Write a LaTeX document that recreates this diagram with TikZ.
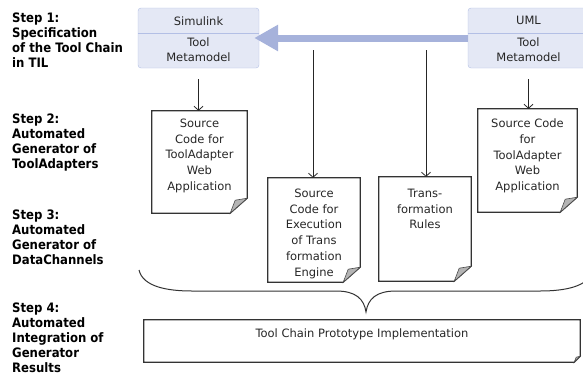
\documentclass[tikz,border=0pt]{standalone}
\usepackage{fontspec}
\setmainfont{DejaVu Sans}
\newfontfamily\stepfont{DejaVu Sans Condensed}
\usetikzlibrary{arrows.meta,positioning}

\definecolor{boxfill}{HTML}{E4E8F5}
\definecolor{boxline}{HTML}{B3BFE5}
\definecolor{bigarrow}{HTML}{A6B2DB}
\definecolor{foldgray}{HTML}{B4B4B4}

\begin{document}
\begin{tikzpicture}[x=1pt,y=-1pt,
  steplabel/.style={anchor=north west,inner sep=0pt,align=left,font=\stepfont\bfseries\fontsize{13}{15}\selectfont},
  toolbox/.style={draw=boxline,fill=boxfill,rounded corners=3pt,minimum width=121pt,minimum height=60pt,inner sep=0pt},
  tooltext/.style={inner sep=0pt,align=center,font=\fontsize{11.5}{15}\selectfont,text=black!85},
  page/.style={inner sep=0pt,draw=none},
  pagetext/.style={inner sep=0pt,align=center,font=\fontsize{11.5}{15.7}\selectfont,text=black!85},
  pageline/.style={draw=black!80,line width=1.2pt},
  fold/.style={fill=foldgray,draw=black!70,line width=0.6pt},
  arr/.style={-{Straight Barb[length=4pt,width=9pt]},black!85,line width=0.8pt}]
\useasboundingbox (0,0) rectangle (583,375);

\node[steplabel] (s1) at (12,13) {Step 1:\\Specification\\of the Tool Chain\\in TIL};
\node[steplabel] (s2) at (12,114) {Step 2:\\Automated\\Generator of\\ToolAdapters};
\node[steplabel] (s3) at (12,210) {Step 3:\\Automated\\Generator of\\DataChannels};
\node[steplabel] (s4) at (12,303) {Step 4:\\Automated\\Integration of\\Generator\\Results};

\node[toolbox] (sim) at (198.5,38) {};
\node[toolbox] (uml) at (528.5,38) {};
\foreach \t in {sim,uml} {
\draw[boxline] ([yshift=-25pt]\t.north west) -- ([yshift=-25pt]\t.north east);
}
\node[tooltext] (simname) at ([yshift=-13pt]sim.north) {Simulink};
\node[tooltext] (simmeta) at ([yshift=-42pt]sim.north) {Tool\\Metamodel};
\node[tooltext] (umlname) at ([yshift=-13pt]uml.north) {UML};
\node[tooltext] (umlmeta) at ([yshift=-42pt]uml.north) {Tool\\Metamodel};

\draw[-{Triangle[length=24pt,width=25pt]},bigarrow,line width=7pt] (uml.west) -- ([xshift=-5pt]sim.east);

\node[page,minimum width=95pt,minimum height=102pt] (d1) at (199.5,162) {};
\node[page,minimum width=92pt,minimum height=104pt] (d2) at (314,230) {};
\node[page,minimum width=92pt,minimum height=104pt] (d3) at (425,229) {};
\node[page,minimum width=99pt,minimum height=103pt] (d4) at (527.5,160.5) {};
\foreach \d in {d1,d2,d3,d4} {
\draw[pageline] (\d.north west) -- (\d.north east) -- ([yshift=15pt]\d.south east) -- ([xshift=-17pt]\d.south east) -- (\d.south west) -- cycle;
\draw[fold] ([yshift=15pt]\d.south east) -- ([xshift=-12pt,yshift=13pt]\d.south east) -- ([xshift=-17pt]\d.south east) -- cycle;
}

\node[pagetext,below=8pt of d1.north] (t1) {Source\\Code for\\ToolAdapter\\Web\\Application};
\node[pagetext,below=11pt of d2.north] (t2) {Source\\Code for\\Execution\\of Trans\\formation\\Engine};
\node[pagetext,below=12pt of d3.north] (t3) {Trans-\\formation\\Rules};
\node[pagetext,below=10pt of d4.north] (t4) {Source Code\\for\\ToolAdapter\\Web\\Application};

\coordinate (c2) at (313,50);
\coordinate (c3) at (426,50);
\draw[arr] ([yshift=-11pt]sim.south) -- (sim.south |- d1.north);
\draw[arr] ([yshift=-11pt]uml.south) -- (uml.south |- d4.north);
\draw[arr] (c2) -- (c2 |- d2.north);
\draw[arr] (c3) -- (c3 |- d3.north);

\draw[black!80,line width=1pt] (139,270) .. controls (143,287) and (168,291) .. (192,291) -- (336,291) .. controls (356,291) and (364,299) .. (366,312) .. controls (368,299) and (376,291) .. (396,291) -- (540,291) .. controls (564,291) and (589,287) .. (593,270);

\node[page,minimum width=436pt,minimum height=42pt] (impl) at (362,341) {};
\draw[pageline] (impl.north west) -- (impl.north east) -- ([yshift=6pt]impl.south east) -- ([xshift=-6pt]impl.south east) -- (impl.south west) -- cycle;
\draw[fold] ([yshift=6pt]impl.south east) -- ([xshift=-4pt,yshift=5pt]impl.south east) -- ([xshift=-6pt]impl.south east) -- cycle;
\node[pagetext,below=9pt of impl.north] (timpl) {Tool Chain Prototype Implementation};
\end{tikzpicture}
\end{document}
